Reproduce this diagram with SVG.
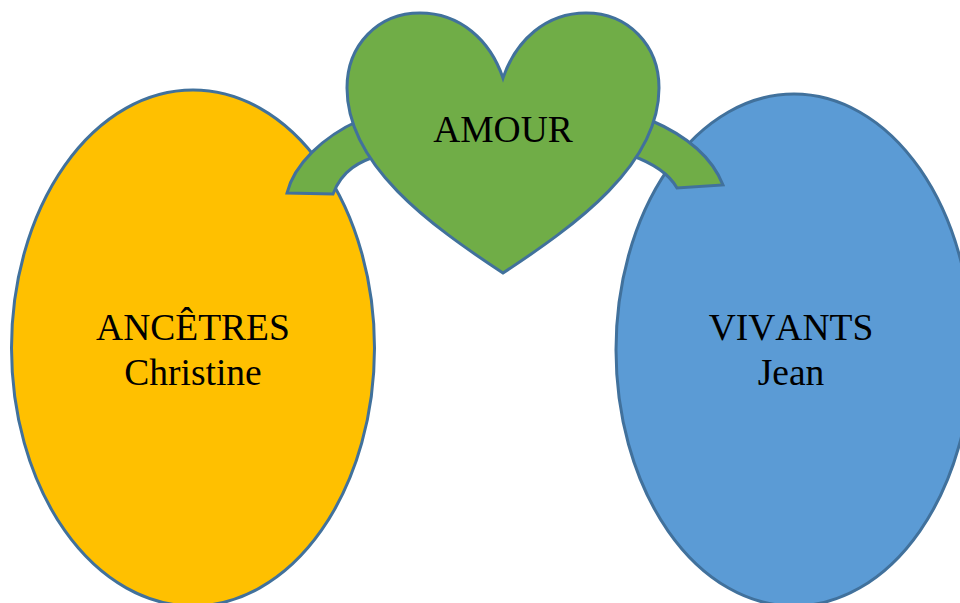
<svg xmlns="http://www.w3.org/2000/svg" width="960" height="603" viewBox="0 0 960 603">
<style>
.s{stroke:#41719c;stroke-width:3}
text{font-family:"Liberation Serif","Times New Roman",serif;font-size:37.500px;fill:#000;text-anchor:middle;font-kerning:none}
</style>
<rect width="960" height="603" fill="#fff"/>
<g id="ancetres"><ellipse class="s" cx="193" cy="348" rx="181.500" ry="258" fill="#ffc000"/>
<text x="193" y="340">ANCÊTRES</text><text x="193" y="385">Christine</text></g>
<g id="vivants"><ellipse class="s" cx="794" cy="350" rx="178" ry="256" fill="#5b9bd5"/>
<text x="791" y="340">VIVANTS</text><text x="791" y="385">Jean</text></g>
<g id="connectors">
<path class="s" fill="#70ad47" d="M287 193C294 165 322 137 360 120L380 155C360 161 342 170 333 194Z"/>
<path class="s" fill="#70ad47" d="M650 120C685 135 712 157 723 185L677 188C668 172 650 162 630 155Z"/>
</g>
<g id="amour"><path class="s" fill="#70ad47" d="M503 78C490 40 460 13 420 13C378 13 347 45 347 88C347 165 430 225 503 273C576 225 659 165 659 88C659 45 628 13 586 13C546 13 516 40 503 78Z"/>
<text x="503" y="142">AMOUR</text></g>
</svg>
